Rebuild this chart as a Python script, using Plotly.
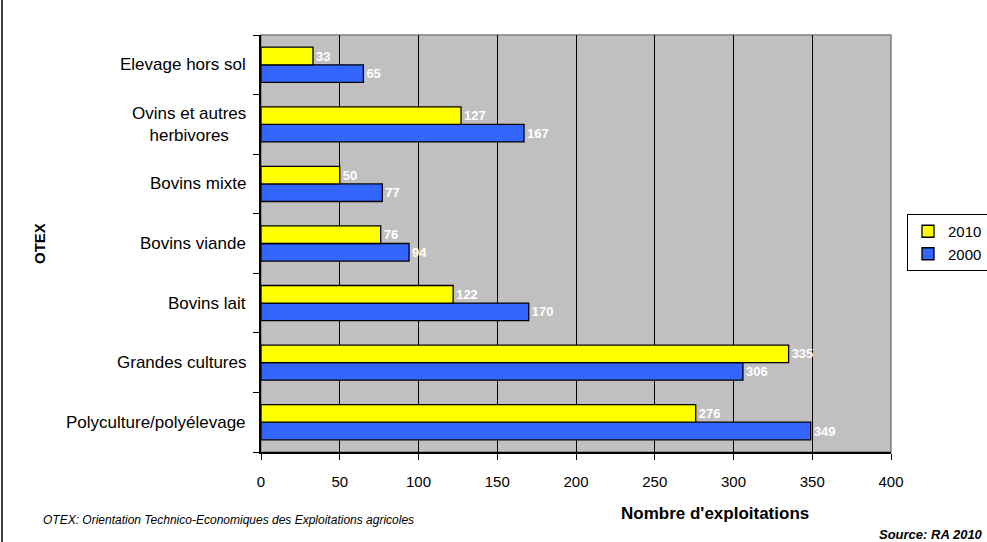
import plotly.graph_objects as go

categories = ["Polyculture/polyélevage", "Grandes cultures", "Bovins lait",
              "Bovins viande", "Bovins mixte", "Ovins et autres<br>herbivores",
              "Elevage hors sol"]
values_2000 = [349, 306, 170, 94, 77, 167, 65]
values_2010 = [276, 335, 122, 76, 50, 127, 33]
x_ticks = [0, 50, 100, 150, 200, 250, 300, 350, 400]

FONT = "Liberation Sans, Arial, sans-serif"
W, H = 987, 542
L, R, T, B = 261, 891, 35, 452
pw, ph = R - L, B - T

def px(x):
    return (x - L) / pw

def py(y):
    return 1 - (y - T) / ph

fig = go.Figure()
for name, vals, col in [("2000", values_2000, "#3366FF"), ("2010", values_2010, "#FFFF00")]:
    fig.add_trace(go.Bar(
        y=categories, x=vals, name=name, orientation="h",
        marker=dict(color=col, line=dict(color="#000000", width=1.3)),
        text=[str(v) for v in vals], textposition="outside",
        textfont=dict(family=FONT, size=13, color="white", weight="bold"),
        constraintext="none", cliponaxis=False,
    ))

annotations = []
for c in categories:
    annotations.append(dict(text=c, x=px(248), xref="paper", y=c, yref="y",
                            xanchor="right", yanchor="middle", align="center",
                            showarrow=False, font=dict(family=FONT, size=17, color="#000")))
annotations += [
    dict(text="<b>OTEX</b>", x=px(39), y=py(243), xref="paper", yref="paper",
         xanchor="center", yanchor="middle",
         textangle=-90, showarrow=False, font=dict(family=FONT, size=15, color="#000")),
    dict(text="<b>Nombre d'exploitations</b>", x=px(715), y=py(513), xref="paper", yref="paper",
         xanchor="center", yanchor="middle",
         showarrow=False, font=dict(family=FONT, size=17, color="#000")),
    dict(text="<i>OTEX: Orientation Technico-Economiques des Exploitations agricoles</i>",
         x=px(41), y=py(520), xref="paper", yref="paper", xanchor="left", yanchor="middle",
         showarrow=False, font=dict(family=FONT, size=12, color="#000")),
    dict(text="<b><i>Source: RA 2010</i></b>", x=px(985), y=py(534), xref="paper", yref="paper",
         xanchor="right", yanchor="middle", showarrow=False,
         font=dict(family=FONT, size=13, color="#000")),
]

shapes = [
    dict(type="rect", xref="paper", yref="paper", x0=0, x1=1, y0=0, y1=1,
         line=dict(color="#808080", width=1.5), layer="below"),
    dict(type="line", xref="paper", yref="paper", x0=px(2), x1=px(2), y0=py(542), y1=py(0),
         line=dict(color="#000", width=1.5)),
]

fig.update_layout(
    width=W, height=H,
    margin=dict(l=L, r=W - R, t=T, b=H - B, autoexpand=False),
    paper_bgcolor="white", plot_bgcolor="#C0C0C0",
    barmode="group", bargap=0.41, bargroupgap=0,
    showlegend=True,
    legend=dict(traceorder="reversed", xref="container", yref="container",
                x=907 / W, y=1 - 214 / H, xanchor="left", yanchor="top",
                bordercolor="#000", borderwidth=1, bgcolor="white",
                font=dict(family=FONT, size=15, color="#000"),
                itemwidth=30, tracegroupgap=0),
    xaxis=dict(range=[0, 400], tickvals=x_ticks, showgrid=True, gridcolor="#000000", gridwidth=1,
               showline=True, linecolor="#000", linewidth=1.5, ticks="outside", ticklen=6,
               tickcolor="#000", tickfont=dict(family=FONT, size=15, color="#000"),
               ticklabelstandoff=9, zeroline=False, fixedrange=True),
    yaxis=dict(showticklabels=False, showline=True, linecolor="#000", linewidth=1.5,
               ticks="outside", ticklen=6, tickcolor="#000", tickson="boundaries",
               showgrid=False, fixedrange=True),
    annotations=annotations, shapes=shapes,
    font=dict(family=FONT),
)

fig.write_html("out.html", config={"displayModeBar": False},
               post_script="document.body.style.margin='0';document.body.style.overflow='hidden';")
